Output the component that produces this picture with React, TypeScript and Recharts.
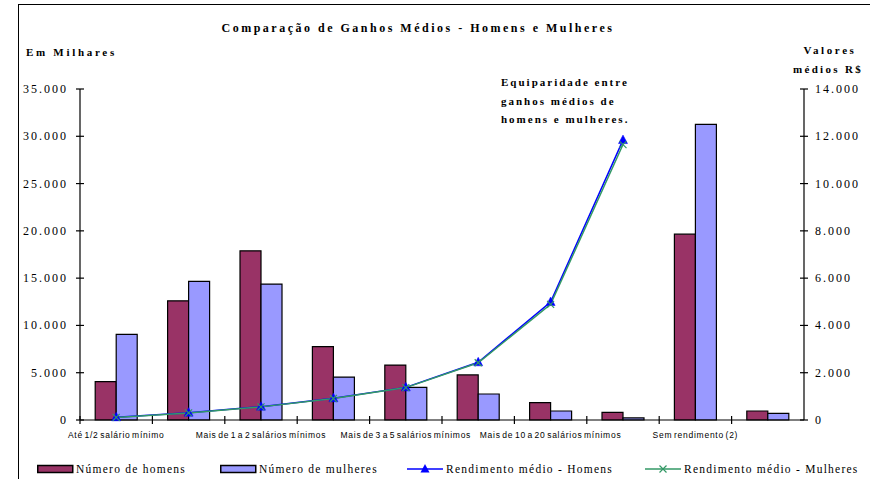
import React from 'react';
import { ComposedChart, Bar, Line, XAxis, YAxis, Legend, Customized } from 'recharts';

const categories = [
  'Até 1/2 salário mínimo',
  'Mais de 1/2 a 1 salário mínimo',
  'Mais de 1 a 2 salários mínimos',
  'Mais de 2 a 3 salários mínimos',
  'Mais de 3 a 5 salários mínimos',
  'Mais de 5 a 10 salários mínimos',
  'Mais de 10 a 20 salários mínimos',
  'Mais de 20 salários mínimos',
  'Sem rendimento (2)',
  'Sem declaração',
];
const numeroHomens = [4050, 12600, 17890, 7750, 5810, 4770, 1830, 810, 19650, 950];
const numeroMulheres = [9050, 14650, 14370, 4540, 3450, 2750, 950, 220, 31270, 700];
const rendimentoHomens: (number | null)[] = [115, 310, 565, 920, 1380, 2440, 4990, 11840, null, null];
const rendimentoMulheres: (number | null)[] = [110, 300, 555, 910, 1370, 2420, 4890, 11650, null, null];
const leftTicks = [0, 5000, 10000, 15000, 20000, 25000, 30000, 35000];
const rightTicks = [0, 2000, 4000, 6000, 8000, 10000, 12000, 14000];

const data = categories.map((c, i) => ({
  categoria: c,
  homens: numeroHomens[i],
  mulheres: numeroMulheres[i],
  rendH: rendimentoHomens[i],
  rendM: rendimentoMulheres[i],
}));

const SERIF = "'Liberation Serif', 'Times New Roman', serif";
const SANS = "'Liberation Sans', Arial, sans-serif";
const MAROON = '#993366';
const LILAC = '#9999FF';
const BLUE = '#0000FF';
const GREEN = '#339966';

const fmt = (v: number) => String(v).replace(/\B(?=(\d{3})+(?!\d))/g, '.');

const tickTextStyle: React.CSSProperties = { fontFamily: SERIF, fontSize: 12, letterSpacing: 2 };

const LeftTick = (props: any) => {
  const { x, y, payload } = props;
  const axisX = x + 12;
  return (
    <g>
      <line x1={axisX - 4} x2={axisX + 4} y1={y} y2={y} stroke="#000" strokeWidth={1.2} />
      <text x={x} y={y} textAnchor="end" dominantBaseline="central" fill="#000" style={tickTextStyle}>
        {fmt(payload.value)}
      </text>
    </g>
  );
};

const RightTick = (props: any) => {
  const { x, y, payload } = props;
  const axisX = x - 11;
  return (
    <g>
      <line x1={axisX - 4} x2={axisX + 4} y1={y} y2={y} stroke="#000" strokeWidth={1.2} />
      <text x={x} y={y} textAnchor="start" dominantBaseline="central" fill="#000" style={tickTextStyle}>
        {fmt(payload.value)}
      </text>
    </g>
  );
};

const XTick = (props: any) => {
  const { x, y, payload, index, width, visibleTicksCount } = props;
  const w = typeof width === 'number' ? width : 724;
  const n = visibleTicksCount || categories.length;
  const band = w / n;
  const axisY = y - 12;
  const bx = x - band / 2;
  return (
    <g>
      <line x1={bx} x2={bx} y1={axisY - 4} y2={axisY + 4} stroke="#000" strokeWidth={1.2} />
      {index % 2 === 0 && (
        <text
          x={x}
          y={axisY + 15}
          textAnchor="middle"
          dominantBaseline="central"
          fill="#000"
          style={{ fontFamily: SANS, fontSize: 8.5, letterSpacing: 0.75, wordSpacing: -1.5 }}
        >
          {payload.value}
        </text>
      )}
    </g>
  );
};

const TriangleDot = (props: any) => {
  const { cx, cy, index } = props;
  if (cx == null || cy == null || isNaN(cy)) return <g key={`t${index}`} />;
  return (
    <path
      key={`t${index}`}
      d={`M${cx},${cy - 5}L${cx + 4.5},${cy + 3.5}L${cx - 4.5},${cy + 3.5}Z`}
      fill={BLUE}
      stroke={BLUE}
      strokeWidth={0.5}
    />
  );
};

const CrossDot = (props: any) => {
  const { cx, cy, index } = props;
  if (cx == null || cy == null || isNaN(cy)) return <g key={`x${index}`} />;
  const s = 3.5;
  return (
    <path
      key={`x${index}`}
      d={`M${cx - s},${cy - s}L${cx + s},${cy + s}M${cx - s},${cy + s}L${cx + s},${cy - s}`}
      stroke={GREEN}
      strokeWidth={1.2}
      fill="none"
    />
  );
};

const Texts = () => (
  <g fill="#000">
    <text x={418} y={28} textAnchor="middle" dominantBaseline="central"
      style={{ fontFamily: SERIF, fontSize: 12, fontWeight: 'bold', letterSpacing: 2.5 }}>
      Comparação de Ganhos Médios - Homens e Mulheres
    </text>
    <text x={26} y={52} dominantBaseline="central"
      style={{ fontFamily: SERIF, fontSize: 11, fontWeight: 'bold', letterSpacing: 2.7 }}>
      Em Milhares
    </text>
    <text x={830} y={50} textAnchor="middle" dominantBaseline="central"
      style={{ fontFamily: SERIF, fontSize: 11, fontWeight: 'bold', letterSpacing: 2.6 }}>
      Valores
    </text>
    <text x={828} y={69} textAnchor="middle" dominantBaseline="central"
      style={{ fontFamily: SERIF, fontSize: 11, fontWeight: 'bold', letterSpacing: 2.3 }}>
      médios R$
    </text>
    {['Equiparidade entre', 'ganhos médios de', 'homens e mulheres.'].map((t, i) => (
      <text key={t} x={501} y={82 + i * 18.5} dominantBaseline="central"
        style={{ fontFamily: SERIF, fontSize: 11, fontWeight: 'bold', letterSpacing: 2 }}>
        {t}
      </text>
    ))}
  </g>
);

const legendItems = [
  { label: 'Número de homens', kind: 'bar', color: MAROON, left: 37 },
  { label: 'Número de mulheres', kind: 'bar', color: LILAC, left: 220 },
  { label: 'Rendimento médio - Homens', kind: 'tri', color: BLUE, left: 407 },
  { label: 'Rendimento médio - Mulheres', kind: 'cross', color: GREEN, left: 645 },
];

const LegendContent = () => (
  <div style={{ position: 'relative', width: 870, height: 18 }}>
    {legendItems.map((it) => (
      <div
        key={it.label}
        style={{
          position: 'absolute',
          left: it.left,
          top: 0,
          height: 18,
          display: 'flex',
          alignItems: 'center',
          whiteSpace: 'nowrap',
        }}
      >
        <svg width={37} height={12} style={{ display: 'block' }}>
          {it.kind === 'bar' && (
            <rect x={0.75} y={2.5} width={35} height={7} fill={it.color} stroke="#000" strokeWidth={1.5} />
          )}
          {it.kind === 'tri' && (
            <g>
              <line x1={0} x2={36} y1={6} y2={6} stroke={it.color} strokeWidth={1.5} />
              <path d="M18,1L22.5,9.5L13.5,9.5Z" fill={it.color} />
            </g>
          )}
          {it.kind === 'cross' && (
            <g stroke={it.color} strokeWidth={1.2}>
              <line x1={0} x2={36} y1={6} y2={6} strokeWidth={1.5} />
              <path d="M14.5,2.5L21.5,9.5M14.5,9.5L21.5,2.5" fill="none" />
            </g>
          )}
        </svg>
        <span style={{ fontFamily: SERIF, fontSize: 11.5, letterSpacing: 1.25, marginLeft: 2, color: '#000' }}>
          {it.label}
        </span>
      </div>
    ))}
  </div>
);

export default function App() {
  return (
    <div style={{ position: 'absolute', left: 0, top: 0, width: 870, height: 479, overflow: 'hidden', background: '#fff' }}>
      <div
        style={{
          position: 'absolute',
          left: 18,
          top: 4,
          width: 900,
          height: 520,
          border: '1.5px solid #000',
          boxSizing: 'border-box',
        }}
      />
      <ComposedChart
        width={870}
        height={479}
        data={data}
        margin={{ top: 89, right: 0, bottom: 0, left: 0 }}
        barCategoryGap="21%"
        barGap={0}
      >
        <XAxis
          dataKey="categoria"
          interval={0}
          tickSize={4}
          tickMargin={8}
          height={41}
          tickLine={false}
          axisLine={{ stroke: '#000', strokeWidth: 1.2 }}
          tick={XTick}
        />
        <YAxis
          yAxisId="left"
          orientation="left"
          width={80}
          domain={[0, 35000]}
          ticks={leftTicks}
          interval={0}
          tickSize={4}
          tickMargin={8}
          tickLine={false}
          axisLine={{ stroke: '#000', strokeWidth: 1.2 }}
          tick={LeftTick}
        />
        <YAxis
          yAxisId="right"
          orientation="right"
          width={66}
          domain={[0, 14000]}
          ticks={rightTicks}
          interval={0}
          tickSize={4}
          tickMargin={7}
          tickLine={false}
          axisLine={{ stroke: '#000', strokeWidth: 1.2 }}
          tick={RightTick}
        />
        <Bar yAxisId="left" dataKey="homens" name="Número de homens" fill={MAROON} stroke="#000" strokeWidth={1.2} isAnimationActive={false} />
        <Bar yAxisId="left" dataKey="mulheres" name="Número de mulheres" fill={LILAC} stroke="#000" strokeWidth={1.2} isAnimationActive={false} />
        <Line
          yAxisId="right"
          dataKey="rendH"
          name="Rendimento médio - Homens"
          stroke={BLUE}
          strokeWidth={1.5}
          dot={TriangleDot}
          activeDot={false}
          connectNulls={false}
          isAnimationActive={false}
        />
        <Line
          yAxisId="right"
          dataKey="rendM"
          name="Rendimento médio - Mulheres"
          stroke={GREEN}
          strokeWidth={1.5}
          dot={CrossDot}
          activeDot={false}
          connectNulls={false}
          isAnimationActive={false}
        />
        <Legend
          verticalAlign="bottom"
          content={LegendContent}
          wrapperStyle={{ position: 'absolute', left: 0, top: 460, width: 870, height: 18 }}
        />
        <Customized component={Texts} />
      </ComposedChart>
    </div>
  );
}
